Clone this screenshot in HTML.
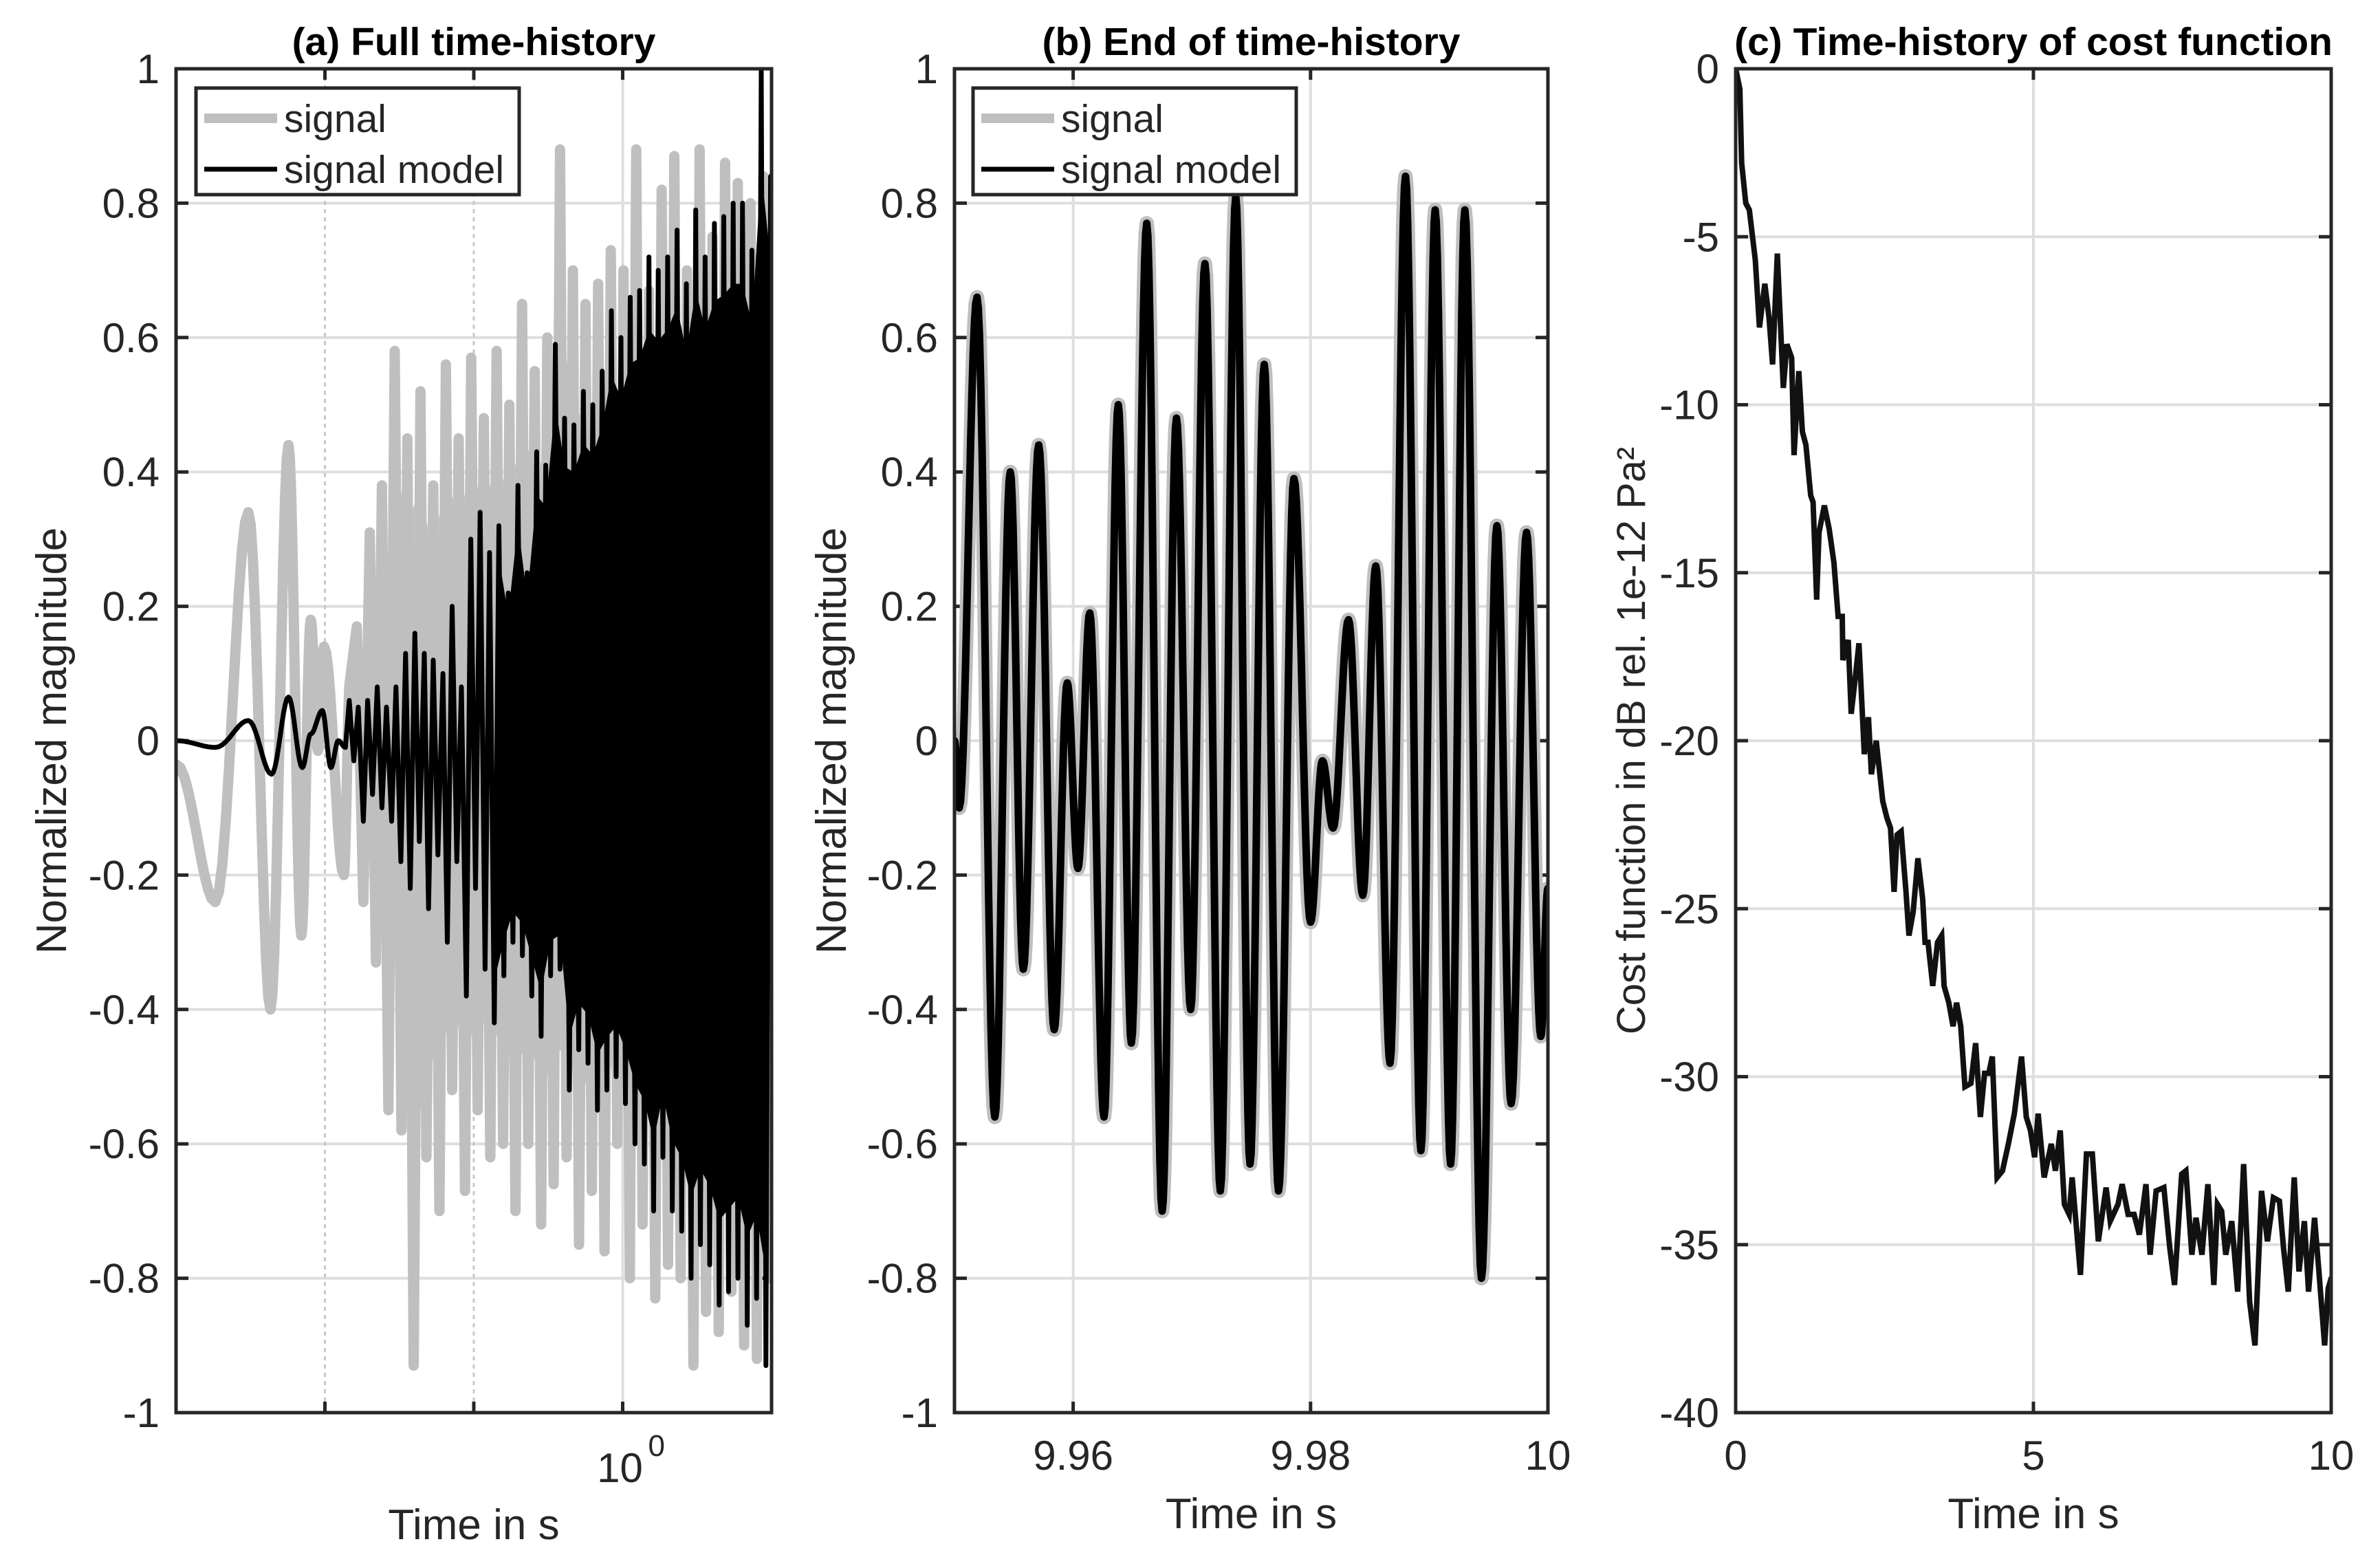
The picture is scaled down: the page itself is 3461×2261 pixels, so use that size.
<!DOCTYPE html>
<html><head><meta charset="utf-8"><style>
html,body{margin:0;padding:0;background:#fff;}
svg{display:block;font-family:"Liberation Sans",Arial,sans-serif;}
</style></head><body>
<svg id="fig" xmlns="http://www.w3.org/2000/svg" width="3461" height="2261" viewBox="0 0 3461 2261">
<rect width="3461" height="2261" fill="#fff"/>
</svg>
<script>
// ---------- Panel (b) data: extrema of signal end segment ----------
const bTimes=[9.9500,9.9504,9.9519,9.9534,9.9547,9.9558,9.9571,9.9584,9.9595,9.9604,9.9614,9.9626,9.9638,9.9649,9.9662,9.9675,9.9687,9.9699,9.9711,9.9724,9.9737,9.9749,9.9761,9.9773,9.9786,9.9800,9.9810,9.9819,9.9832,9.9844,9.9855,9.9867,9.9880,9.9893,9.9905,9.9918,9.9930,9.9944,9.9957,9.9969,9.9982,9.9994,10.000];
const bValues=[0,-0.10,0.66,-0.56,0.40,-0.34,0.44,-0.43,0.086,-0.19,0.19,-0.56,0.50,-0.45,0.77,-0.70,0.48,-0.40,0.71,-0.67,0.81,-0.63,0.56,-0.67,0.39,-0.27,-0.03,-0.13,0.18,-0.23,0.26,-0.48,0.84,-0.61,0.79,-0.63,0.79,-0.80,0.32,-0.54,0.31,-0.44,-0.22];

// ---------- Panel (c) data: cost function ----------
const cTimes=[0,0.07,0.10,0.17,0.23,0.33,0.40,0.49,0.56,0.62,0.70,0.80,0.86,0.94,0.98,1.06,1.12,1.18,1.26,1.30,1.36,1.40,1.49,1.57,1.65,1.72,1.79,1.80,1.89,1.94,2.01,2.07,2.16,2.23,2.28,2.36,2.47,2.54,2.60,2.66,2.71,2.78,2.86,2.91,2.98,3.06,3.14,3.18,3.23,3.31,3.39,3.46,3.50,3.58,3.65,3.71,3.78,3.85,3.95,4.03,4.11,4.18,4.25,4.31,4.39,4.48,4.58,4.68,4.80,4.88,4.95,5.02,5.08,5.18,5.30,5.37,5.45,5.52,5.60,5.65,5.79,5.89,5.99,6.09,6.22,6.29,6.42,6.49,6.59,6.69,6.78,6.89,6.96,7.06,7.19,7.29,7.37,7.49,7.56,7.66,7.73,7.83,7.93,8.03,8.09,8.16,8.23,8.33,8.43,8.53,8.63,8.72,8.83,8.93,9.03,9.13,9.20,9.28,9.38,9.46,9.55,9.62,9.72,9.79,9.89,9.95,10.0];
const cValues=[0,-0.6,-2.8,-4.0,-4.2,-5.7,-7.7,-6.4,-7.4,-8.8,-5.5,-9.5,-8.2,-8.6,-11.5,-9.0,-10.8,-11.2,-12.7,-12.9,-15.8,-13.8,-13.0,-13.7,-14.7,-16.3,-16.3,-17.6,-17.0,-19.2,-18.1,-17.1,-20.4,-19.3,-21.0,-20.0,-21.8,-22.3,-22.6,-24.5,-22.8,-22.7,-24.5,-25.8,-25.1,-23.5,-24.7,-26.0,-26.0,-27.3,-26.0,-25.8,-27.3,-27.8,-28.5,-27.8,-28.5,-30.3,-30.2,-29.0,-31.2,-29.9,-29.9,-29.4,-33.0,-32.8,-32.0,-31.1,-29.4,-31.2,-31.6,-32.4,-31.1,-33.0,-32.0,-32.8,-31.6,-33.8,-34.1,-33.0,-35.9,-32.3,-32.3,-34.9,-33.3,-34.3,-33.8,-33.2,-34.1,-34.1,-34.7,-33.2,-35.3,-33.4,-33.3,-35.1,-36.2,-32.9,-32.8,-35.3,-34.2,-35.3,-33.2,-36.2,-33.8,-34.0,-35.3,-34.3,-36.4,-32.6,-36.7,-38.0,-33.4,-34.9,-33.6,-33.7,-35.1,-36.4,-33.0,-35.8,-34.3,-36.4,-34.2,-35.7,-38.0,-36.3,-36.0];

// ---------- Panel (a) data ----------
const aSigEarlyT=[0.125,0.150,0.175,0.194,0.211,0.224,0.234,0.242,0.249,0.273,0.281];
const aSigEarlyV=[-0.035,-0.24,0.34,-0.40,0.44,-0.29,0.18,-0.015,0.14,-0.20,0.09];
const aSigDenseT=[0.290,0.299,0.308,0.317,0.326,0.336,0.346,0.357,0.367,0.378,0.390,0.401,0.414,0.426,0.439,0.452,0.466,0.480,0.494,0.509,0.524,0.540,0.556,0.573,0.590,0.607,0.626,0.644,0.664,0.684,0.704,0.725,0.747,0.770,0.793,0.816,0.841,0.866,0.892,0.919,0.946,0.975,1.004,1.034,1.065,1.097,1.130,1.164,1.199,1.235,1.272,1.310,1.349,1.390,1.431,1.474,1.519,1.564,1.611,1.659,1.709,1.760,1.813,1.868,1.924,1.981];
const aSigDenseV=[0.17,-0.24,0.31,-0.33,0.38,-0.55,0.58,-0.58,0.45,-0.93,0.52,-0.62,0.38,-0.70,0.56,-0.52,0.45,-0.67,0.57,-0.55,0.48,-0.62,0.58,-0.60,0.50,-0.70,0.65,-0.60,0.55,-0.72,0.60,-0.66,0.88,-0.62,0.70,-0.75,0.65,-0.67,0.68,-0.76,0.73,-0.60,0.70,-0.80,0.88,-0.72,0.67,-0.83,0.82,-0.78,0.87,-0.80,0.70,-0.93,0.88,-0.85,0.75,-0.88,0.86,-0.82,0.83,-0.90,0.80,-0.92,0.84,-0.80];
const aModEarlyT=[0.125,0.150,0.175,0.195,0.211,0.225,0.234,0.247,0.257,0.266,0.275];
const aModEarlyV=[0,-0.01,0.03,-0.05,0.065,-0.04,0.01,0.045,-0.04,0.0,-0.01];
const aModDenseT=[0.280,0.286,0.292,0.299,0.305,0.312,0.319,0.326,0.333,0.341,0.348,0.356,0.364,0.372,0.380,0.388,0.397,0.405,0.414,0.423,0.433,0.442,0.452,0.462,0.472,0.483,0.493,0.504,0.515,0.527,0.538,0.550,0.562,0.575,0.587,0.600,0.614,0.627,0.641,0.655,0.670,0.684,0.699,0.715,0.731,0.747,0.763,0.780,0.797,0.815,0.833,0.851,0.870,0.889,0.909,0.929,0.949,0.970,0.992,1.013,1.036,1.059,1.082,1.106,1.130,1.155,1.180,1.206,1.233,1.260,1.288,1.316,1.345,1.375,1.405,1.436,1.468,1.500,1.533,1.567,1.601,1.637,1.673,1.710,1.747,1.786,1.825,1.865,1.906,1.948,1.991];
const aModDenseV=[0.06,-0.03,0.05,-0.12,0.06,-0.08,0.08,-0.10,0.05,-0.12,0.08,-0.18,0.13,-0.22,0.16,-0.15,0.13,-0.25,0.12,-0.17,0.10,-0.30,0.20,-0.18,0.08,-0.38,0.30,-0.22,0.34,-0.34,0.28,-0.42,0.32,-0.35,0.22,-0.30,0.38,-0.32,0.25,-0.38,0.43,-0.44,0.41,-0.35,0.59,-0.34,0.48,-0.52,0.47,-0.46,0.52,-0.48,0.50,-0.55,0.55,-0.52,0.64,-0.50,0.60,-0.54,0.66,-0.60,0.67,-0.63,0.72,-0.70,0.70,-0.62,0.72,-0.70,0.76,-0.73,0.68,-0.80,0.79,-0.75,0.72,-0.78,0.77,-0.84,0.78,-0.82,0.80,-0.80,0.80,-0.87,0.73,-0.83,1.00,-0.93,0.84];

// ---------- tick arrays ----------
const magTicks=[-1,-0.8,-0.6,-0.4,-0.2,0,0.2,0.4,0.6,0.8,1];
const magTickLabels=["-1","-0.8","-0.6","-0.4","-0.2","0","0.2","0.4","0.6","0.8","1"];
const aXTicks=[0.25,0.5,1];
const bXTicks=[9.96,9.98,10];
const bXTickLabels=["9.96","9.98","10"];
const cXTicks=[0,5,10];
const cXTickLabels=["0","5","10"];
const cYTicks=[0,-5,-10,-15,-20,-25,-30,-35,-40];
const cYTickLabels=["0","-5","-10","-15","-20","-25","-30","-35","-40"];

const NS="http://www.w3.org/2000/svg";
const svg=document.getElementById('fig');
const TOP=100,BOT=2054;
function mk(tag,parent){const e=document.createElementNS(NS,tag);(parent||svg).appendChild(e);return e;}
function txt(parent,x,y,s,size,anchor,weight){const t=mk('text',parent);t.setAttribute('x',x);t.setAttribute('y',y);t.setAttribute('font-size',size);t.setAttribute('text-anchor',anchor||'middle');t.setAttribute('fill','#262626');if(weight)t.setAttribute('font-weight',weight);t.textContent=s;return t;}

function linX(d0,d1,p0,p1){return v=>p0+(v-d0)/(d1-d0)*(p1-p0);}
function logX(d0,d1,p0,p1){const l0=Math.log10(d0),l1=Math.log10(d1);return v=>p0+(Math.log10(v)-l0)/(l1-l0)*(p1-p0);}
function linY(d0,d1){return v=>BOT-(v-d0)/(d1-d0)*(BOT-TOP);}

function smoothPts(ts,vs,xf,yf,n){const pts=[];for(let i=0;i<ts.length-1;i++){for(let k=0;k<n;k++){const s=k/n;const w=(1-Math.cos(Math.PI*s))/2;pts.push([xf(ts[i]+(ts[i+1]-ts[i])*s),yf(vs[i]+(vs[i+1]-vs[i])*w)]);}}pts.push([xf(ts[ts.length-1]),yf(vs[vs.length-1])]);return pts;}
function rawPts(ts,vs,xf,yf){return ts.map((t,i)=>[xf(t),yf(vs[i])]);}
function poly(parent,pts,color,w){const p=mk('polyline',parent);p.setAttribute('points',pts.map(q=>q[0].toFixed(1)+','+q[1].toFixed(1)).join(' '));p.setAttribute('fill','none');p.setAttribute('stroke',color);p.setAttribute('stroke-width',w);p.setAttribute('stroke-linejoin','round');p.setAttribute('stroke-linecap','round');return p;}
// envelope fill between positive and negative excursions (for dense oscillation regions)
function envelope(parent,ts,vs,xf,yf,tMin,color,shrink){
  const up=[],lo=[];
  ts.forEach((t,i)=>{if(t<tMin)return;const p=[xf(t),yf(vs[i]*shrink)];if(vs[i]>=0)up.push(p);else lo.push(p);});
  const pts=up.concat(lo.reverse());
  const p=mk('polygon',parent);p.setAttribute('points',pts.map(q=>q[0].toFixed(1)+','+q[1].toFixed(1)).join(' '));p.setAttribute('fill',color);
  return p;
}

function axesFrame(g,L,R,clipId){
  const cp=mk('clipPath',g);cp.setAttribute('id',clipId);const r=mk('rect',cp);r.setAttribute('x',L);r.setAttribute('y',TOP);r.setAttribute('width',R-L);r.setAttribute('height',BOT-TOP);
}
function frame(g,L,R){const f=mk('rect',g);f.setAttribute('x',L);f.setAttribute('y',TOP);f.setAttribute('width',R-L);f.setAttribute('height',BOT-TOP);f.setAttribute('fill','none');f.setAttribute('stroke','#262626');f.setAttribute('stroke-width',5);
  
  }
function hline(g,x1,x2,y,c,w,dash){const l=mk('line',g);l.setAttribute('x1',x1);l.setAttribute('x2',x2);l.setAttribute('y1',y);l.setAttribute('y2',y);l.setAttribute('stroke',c);l.setAttribute('stroke-width',w);if(dash)l.setAttribute('stroke-dasharray',dash);return l;}
function vline(g,x,y1,y2,c,w,dash){const l=mk('line',g);l.setAttribute('x1',x);l.setAttribute('x2',x);l.setAttribute('y1',y1);l.setAttribute('y2',y2);l.setAttribute('stroke',c);l.setAttribute('stroke-width',w);if(dash)l.setAttribute('stroke-dasharray',dash);return l;}

function yAxis(g,L,R,ticks,labels,yf){
  ticks.forEach((v,i)=>{const y=yf(v);
    if(v!==ticks[0]&&v!==ticks[ticks.length-1]){const gl=hline(g,L,R,y,'#dedede',4);
      
      }
    hline(g,L,L+18,y,'#262626',5);hline(g,R-18,R,y,'#262626',5);
    const t=txt(g,L-24,y+21,labels[i],60,'end');
    
    
  });
}
function legend(g,x,y){
  const box=mk('rect',g);box.setAttribute('x',x);box.setAttribute('y',y);box.setAttribute('width',470);box.setAttribute('height',155);box.setAttribute('fill','#fff');box.setAttribute('stroke','#262626');box.setAttribute('stroke-width',5);
  
  
  const l1=hline(g,x+12,x+118,y+44,'#bfbfbf',14);
  
  
  const t1=txt(g,x+128,y+64,'signal',57,'start');
  
  
  const l2=hline(g,x+12,x+118,y+118,'#000',7);
  
  
  const t2=txt(g,x+128,y+138,'signal model',57,'start');
  
  
}

// ================= Panel A =================
(function(){
  const L=256,R=1122;
  const g=mk('g');
  
  
  axesFrame(g,L,R,'clipA');
  const xf=logX(0.125,2,L,R), yf=linY(-1,1);
  yAxis(g,L,R,magTicks,magTickLabels,yf);
  aXTicks.forEach(v=>{const x=xf(v);
    const gl=(v===1)?vline(g,x,TOP,BOT,'#dedede',4):vline(g,x,TOP,BOT,'#c8c8c8',3,'6 6');
    
    
    vline(g,x,TOP,TOP+16,'#262626',5);vline(g,x,BOT-16,BOT,'#262626',5);});
  const dg=mk('g',g);dg.setAttribute('clip-path','url(#clipA)');
  
  
  const ge=envelope(dg,aSigDenseT,aSigDenseV,xf,yf,0.34,'#c4c4c4',0.72);
  
  
  const sig=smoothPts(aSigEarlyT,aSigEarlyV,xf,yf,10).concat(rawPts(aSigDenseT,aSigDenseV,xf,yf));
  const sp=poly(dg,sig,'#bfbfbf',15);
  
  
  const be=envelope(dg,aModDenseT,aModDenseV,xf,yf,0.55,'#000',0.85);
  
  
  const mod=smoothPts(aModEarlyT,aModEarlyV,xf,yf,10).concat(rawPts(aModDenseT,aModDenseV,xf,yf));
  const mp=poly(dg,mod,'#000',7);
  
  
  frame(g,L,R);
  legend(g,L+29,128);
  const x10=xf(1);
  const tl=txt(g,x10-4,2155,'10',60,'middle');
  
  
  const sup=txt(g,x10+37,2117,'0',44,'start');
  
  
  const xl=txt(g,(L+R)/2,2238,'Time in s',62);
  
  
  const yl=txt(g,0,0,'Normalized magnitude',62);yl.setAttribute('transform','translate(96,1077) rotate(-90)');
  
  
  const tt=txt(g,(L+R)/2,80,'(a) Full time-history',57,'middle','bold');tt.setAttribute('fill','#000');
  
  
})();

// ================= Panel B =================
(function(){
  const L=1388,R=2251;
  const g=mk('g');
  
  
  axesFrame(g,L,R,'clipB');
  const xf=linX(9.95,10,L,R), yf=linY(-1,1);
  yAxis(g,L,R,magTicks,magTickLabels,yf);
  bXTicks.forEach((v,i)=>{const x=xf(v);
    if(v<10){const gl=vline(g,x,TOP,BOT,'#dedede',4);
      
      }
    vline(g,x,TOP,TOP+16,'#262626',5);vline(g,x,BOT-16,BOT,'#262626',5);
    const t=txt(g,x,2137,bXTickLabels[i],60);
    
    });
  const dg=mk('g',g);dg.setAttribute('clip-path','url(#clipB)');
  
  
  const pts=smoothPts(bTimes,bValues,xf,yf,14);
  const sp=poly(dg,pts,'#bfbfbf',21);
  
  
  const mp=poly(dg,pts,'#000',11);
  
  
  frame(g,L,R);
  legend(g,L+27,128);
  const xl=txt(g,(L+R)/2,2222,'Time in s',62);
  
  
  const yl=txt(g,0,0,'Normalized magnitude',62);yl.setAttribute('transform','translate(1230,1077) rotate(-90)');
  
  
  const tt=txt(g,(L+R)/2,80,'(b) End of time-history',57,'middle','bold');tt.setAttribute('fill','#000');
  
  
})();

// ================= Panel C =================
(function(){
  const L=2524,R=3390;
  const g=mk('g');
  
  
  axesFrame(g,L,R,'clipC');
  const xf=linX(0,10,L,R), yf=linY(-40,0);
  yAxis(g,L,R,cYTicks,cYTickLabels,yf);
  cXTicks.forEach((v,i)=>{const x=xf(v);
    if(v>0&&v<10){const gl=vline(g,x,TOP,BOT,'#dedede',4);
      
      }
    vline(g,x,TOP,TOP+16,'#262626',5);vline(g,x,BOT-16,BOT,'#262626',5);
    const t=txt(g,x,2137,cXTickLabels[i],60);
    
    });
  const dg=mk('g',g);dg.setAttribute('clip-path','url(#clipC)');
  
  
  const cp=poly(dg,rawPts(cTimes,cValues,xf,yf),'#111',8);
  cp.setAttribute('stroke-linejoin','miter');
  
  
  frame(g,L,R);
  const xl=txt(g,(L+R)/2,2222,'Time in s',62);
  
  
  const yl=txt(g,0,0,'Cost function in dB rel. 1e-12 Pa²',58);yl.setAttribute('transform','translate(2392,1077) rotate(-90)');
  
  
  const tt=txt(g,(L+R)/2,80,'(c) Time-history of cost function',57,'middle','bold');tt.setAttribute('fill','#000');
  
  
})();
</script>
</body></html>
